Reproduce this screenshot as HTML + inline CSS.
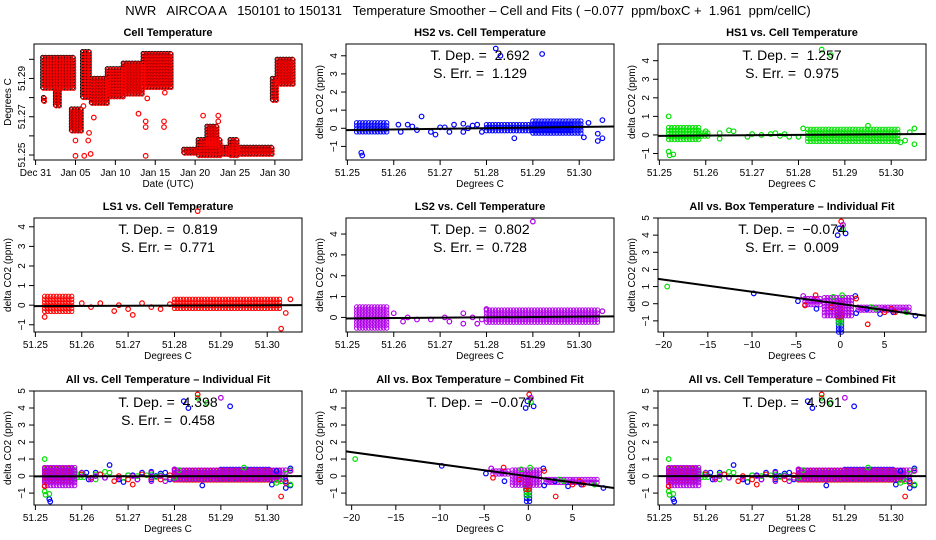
<!DOCTYPE html>
<html><head><meta charset="utf-8">
<style>
body{margin:0;background:#fff;}
svg{display:block;font-family:"Liberation Sans",Arial,sans-serif;}
text{white-space:pre;}
</style></head>
<body>
<svg id="chart" width="936" height="540" viewBox="0 0 936 540">
<rect width="936" height="540" fill="#fff"/>
<text x="468" y="15" text-anchor="middle" font-size="13">NWR   AIRCOA A   150101 to 150131   Temperature Smoother – Cell and Fits ( −0.077  ppm/boxC +  1.961  ppm/cellC)</text>
</svg>
<script>
// ---------- data ----------
const cellTickValues=[51.25,51.26,51.27,51.28,51.29,51.30];
const cellTickLabels=["51.25","51.26","51.27","51.28","51.29","51.30"];
const boxTickValues=[-20,-15,-10,-5,0,5];
const boxTickLabels=["−20","−15","−10","−5","0","5"];
const dayTickValues=[0,5,10,15,20,25,30];
const dayTickLabels=["Dec 31","Jan 05","Jan 10","Jan 15","Jan 20","Jan 25","Jan 30"];
const cellTempTickValues=[51.25,51.26,51.27,51.28,51.29,51.30];
const cellTempTickLabels=["51.25","","51.27","","51.29",""];

// time series: [day0, day1, tempLo, tempHi]
const tsBands=[[0.9,4.8,51.284,51.301],[1.0,1.2,51.277,51.28],[2.5,2.9,51.276,51.284],[4.5,5.7,51.262,51.274],[5.9,7.0,51.279,51.304],[7.0,9.0,51.276,51.29],[9.0,11.0,51.280,51.295],[11,13.5,51.282,51.298],[13.5,16.9,51.285,51.303],[18.6,20.4,51.25,51.253],[20.4,23.2,51.25,51.258],[21.5,23,51.255,51.265],[23.2,24.4,51.25,51.254],[24.4,25.4,51.25,51.258],[25.4,29.9,51.25,51.254],[29.7,30.3,51.279,51.29],[30.3,32.2,51.287,51.3]];
const tsPoints=[[4.9,51.25],[4.9,51.258],[6.0,51.25],[6.8,51.251],[6.5,51.258],[6.6,51.262],[5.9,51.276],[7.2,51.27],[12.8,51.272],[13.7,51.25],[13.7,51.268],[13.7,51.265],[13.9,51.28],[16,51.268],[16,51.265],[16.1,51.283],[20.9,51.271],[22.8,51.268],[22.8,51.271]];

// cell-temp scatter: bands [x0,x1,yLo,yHi], points [x,y]
const hs2Bands=[[51.252,51.2585,-0.3,0.3],[51.280,51.2985,-0.25,0.2],[51.290,51.3005,-0.3,0.4]];
const hs2Points=[[51.253,-1.35],[51.2532,-1.5],[51.261,0.2],[51.2615,-0.2],[51.263,0.2],[51.264,0.1],[51.265,-0.1],[51.266,0.65],[51.268,-0.2],[51.269,-0.35],[51.270,0.05],[51.271,0.05],[51.272,-0.2],[51.273,0.2],[51.275,-0.2],[51.275,0.25],[51.276,0],[51.277,0.15],[51.278,0.2],[51.279,-0.2],[51.282,4.4],[51.283,4.0],[51.292,4.1],[51.286,-0.55],[51.301,-0.5],[51.302,0.3],[51.304,-0.7],[51.305,-0.55],[51.305,0.45],[51.304,-0.3]];
const hs1Bands=[[51.252,51.2585,-0.3,0.4],[51.2585,51.261,-0.2,0.1],[51.282,51.302,-0.35,0.3]];
const hs1Points=[[51.252,1.0],[51.252,-0.9],[51.2522,-1.1],[51.253,-1.05],[51.26,0.2],[51.263,0.1],[51.263,-0.2],[51.265,0.25],[51.266,0.2],[51.269,-0.1],[51.270,0.05],[51.272,0],[51.274,0.05],[51.275,0.1],[51.276,-0.05],[51.277,0.05],[51.278,-0.1],[51.28,-0.1],[51.281,0.35],[51.285,4.6],[51.287,4.3],[51.295,0.5],[51.302,-0.4],[51.303,-0.3],[51.304,0.15],[51.305,0.35],[51.305,-0.5]];
const ls1Bands=[[51.252,51.258,-0.35,0.45],[51.28,51.303,-0.25,0.3]];
const ls1Points=[[51.252,-0.6],[51.26,0.1],[51.262,-0.1],[51.264,0.1],[51.267,-0.3],[51.268,0],[51.27,-0.2],[51.271,-0.5],[51.273,0.1],[51.275,-0.1],[51.277,-0.2],[51.279,0.05],[51.285,4.8],[51.303,-1.2],[51.305,0.3],[51.304,-0.4]];
const ls2Bands=[[51.252,51.2585,-0.6,0.5],[51.28,51.304,-0.3,0.35]];
const ls2Points=[[51.26,0.2],[51.262,-0.2],[51.263,0],[51.265,-0.1],[51.268,-0.1],[51.271,0],[51.272,-0.2],[51.275,-0.3],[51.275,0.2],[51.277,0],[51.278,-0.3],[51.279,-0.1],[51.28,0.4],[51.29,4.6],[51.305,0.3]];

// box-temp scatter
const boxBlueBands=[[-0.2,0.2,-1.65,-0.6]];
const boxGreenBands=[[-0.25,0.25,-1.2,-0.6]];
const boxRedBands=[[-0.3,0.3,-0.8,0.1]];
const boxPurpleBands=[[-1.8,1.4,-0.7,0.35],[-4,-2,-0.05,0.3],[2,8,-0.5,-0.2]];
const boxBluePoints=[[-9.8,0.6],[-4.8,0.15],[-2.7,-0.3],[1.8,-0.55],[1.7,0.45],[4.5,-0.6],[8.5,-0.7],[-0.3,4.0],[-0.1,4.4],[0.6,4.1],[3,-0.3],[6,-0.5]];
const boxGreenPoints=[[-19.6,1.0],[0.3,4.35],[7.5,-0.5],[-0.8,0.4],[0.2,0.5],[3.5,-0.2],[4,-0.3]];
const boxRedPoints=[[0.1,4.8],[-2.8,0.5],[3.1,-1.2],[-4,-0.1],[5,-0.5],[5.8,-0.3],[6.2,-0.5],[1.8,0.3],[-1,-0.2]];
const boxPurplePoints=[[0.3,4.6],[-4.2,0.45],[7.2,-0.4],[5,-0.3],[2.5,-0.3],[-3,0.2]];

// fits: [yAtXmin, yAtXmax]
const fitHS2=[-0.1,0.1], fitHS1=[-0.05,0.05], fitLS1=[-0.05,0.0], fitLS2=[-0.05,0.05];
const fitBox=[1.45,-0.7], fitCellInd=[-0.02,0.0], fitCellComb=[0,0];
const statTDep=["2.692","1.257","0.819","0.802","−0.074","4.398","−0.077","4.961"];
const statSErr=["1.129","0.975","0.771","0.728","0.009","0.458"];

// ---------- drawing ----------
const svg=document.getElementById('chart');
const NS='http://www.w3.org/2000/svg';
const BLUE='#0000ff',GREEN='#00e000',RED='#ff0000',PURPLE='#b000e8';
function mk(tag,attrs,parent){const e=document.createElementNS(NS,tag);for(const k in attrs)e.setAttribute(k,attrs[k]);(parent||svg).appendChild(e);return e;}
function panel(name,left,top,w,h,xlim,ylim){
  const g=mk('g',{});
  
  
  const sx=v=>left+(v-xlim[0])/(xlim[1]-xlim[0])*w;
  const sy=v=>top+h-(v-ylim[0])/(ylim[1]-ylim[0])*h;
  return {g,sx,sy,left,top,w,h,xlim,ylim};
}
function frame(p,title,xTitle,yTitle,xt,xl,yt,yl){
  const t=mk('text',{x:p.left+p.w/2,y:p.top-8,'text-anchor':'middle','font-size':11,'font-weight':'bold'},p.g);t.textContent=title;
  
  
  const b=mk('rect',{x:p.left,y:p.top,width:p.w,height:p.h,fill:'none',stroke:'#000','stroke-width':1},p.g);
  
  
  const ax=mk('g',{},p.g);
  
  
  xt.forEach((v,i)=>{const x=p.sx(v);
    mk('line',{x1:x,x2:x,y1:p.top+p.h,y2:p.top+p.h+5,stroke:'#000'},ax);
    const l=mk('text',{x:x,y:p.top+p.h+16,'text-anchor':'middle','font-size':10},ax);l.textContent=xl[i];});
  const xtt=mk('text',{x:p.left+p.w/2,y:p.top+p.h+27,'text-anchor':'middle','font-size':10},p.g);xtt.textContent=xTitle;
  
  
  const ay=mk('g',{},p.g);
  
  
  yt.forEach((v,i)=>{const y=p.sy(v);
    mk('line',{x1:p.left-5,x2:p.left,y1:y,y2:y,stroke:'#000'},ay);
    if(yl[i]!==''){const l=mk('text',{x:p.left-9,y:y,'text-anchor':'middle','font-size':10,transform:`rotate(-90 ${p.left-9} ${y})`},ay);l.textContent=yl[i];}});
  const ytt=mk('text',{x:p.left-23,y:p.top+p.h/2,'text-anchor':'middle','font-size':10,transform:`rotate(-90 ${p.left-23} ${p.top+p.h/2})`},p.g);ytt.textContent=yTitle;
  
  
}
function bands(p,arr,color){
  const g=mk('g',{fill:'none',stroke:color,'stroke-width':1},p.g);
  
  
  arr.forEach(b=>{const x0=p.sx(b[0]),x1=p.sx(b[1]),y0=p.sy(b[3]),y1=p.sy(b[2]);
    for(let x=x0;x<=x1+0.01;x+=3)for(let y=y0;y<=y1+0.01;y+=3)mk('circle',{cx:x,cy:y,r:2.2},g);});
}
function points(p,arr,color){
  const g=mk('g',{fill:'none',stroke:color,'stroke-width':1.2},p.g);
  
  
  arr.forEach(d=>mk('circle',{cx:p.sx(d[0]),cy:p.sy(d[1]),r:2.3},g));
}
function fit(p,f){
  const l=mk('line',{x1:p.left,x2:p.left+p.w,y1:p.sy(f[0]),y2:p.sy(f[1]),stroke:'#000','stroke-width':2},p.g);
  
  
}
function stats(p,td,se){
  const a=mk('text',{x:p.left+p.w/2,y:p.top+16,'text-anchor':'middle','font-size':14},p.g);a.textContent='T. Dep. =  '+td;
  
  
  if(se){const b=mk('text',{x:p.left+p.w/2,y:p.top+34,'text-anchor':'middle','font-size':14},p.g);b.textContent='S. Err. =  '+se;
  
  }
}
const cols=[34,346,658], W=268;
const rows=[[44,116],[218,114],[391,114]];
const cellX=[51.2497,51.3075], boxX=[-20.64,9.7];
const dY5=[-1,0,1,2,3,4,5], dY4=[-1,0,1,2,3,4];
const lab=a=>a.map(v=>v<0?'−'+(-v):String(v));
const dT='delta CO2 (ppm)';

// Panel 1
let p=panel('cell-temperature-panel',cols[0],rows[0][0],W,rows[0][1],[-0.2,33.4],[51.2474,51.308]);
frame(p,'Cell Temperature','Date (UTC)','Degrees C',dayTickValues,dayTickLabels,cellTempTickValues,cellTempTickLabels);
bands(p,tsBands,'#000');
{const q=Object.assign({},p);q.sx=v=>p.sx(v)+0.8;q.sy=v=>p.sy(v)+0.8;bands(q,tsBands,RED);points(q,tsPoints,RED);}

// Row 1
p=panel('hs2-panel',cols[1],rows[0][0],W,rows[0][1],cellX,[-1.75,4.65]);
frame(p,'HS2 vs. Cell Temperature','Degrees C',dT,cellTickValues,cellTickLabels,dY4,lab(dY4));
bands(p,hs2Bands,BLUE);points(p,hs2Points,BLUE);fit(p,fitHS2);stats(p,statTDep[0],statSErr[0]);
p=panel('hs1-panel',cols[2],rows[0][0],W,rows[0][1],cellX,[-1.35,4.9]);
frame(p,'HS1 vs. Cell Temperature','Degrees C',dT,cellTickValues,cellTickLabels,dY4,lab(dY4));
bands(p,hs1Bands,GREEN);points(p,hs1Points,GREEN);fit(p,fitHS1);stats(p,statTDep[1],statSErr[1]);

// Row 2
p=panel('ls1-panel',cols[0],rows[1][0],W,rows[1][1],cellX,[-1.37,4.45]);
frame(p,'LS1 vs. Cell Temperature','Degrees C',dT,cellTickValues,cellTickLabels,dY4,lab(dY4));
bands(p,ls1Bands,RED);points(p,ls1Points,RED);fit(p,fitLS1);stats(p,statTDep[2],statSErr[2]);
p=panel('ls2-panel',cols[1],rows[1][0],W,rows[1][1],cellX,[-0.7,4.77]);
frame(p,'LS2 vs. Cell Temperature','Degrees C',dT,cellTickValues,cellTickLabels,dY4.slice(1),lab(dY4.slice(1)));
bands(p,ls2Bands,PURPLE);points(p,ls2Points,PURPLE);fit(p,fitLS2);stats(p,statTDep[3],statSErr[3]);
function boxAll(p){
  bands(p,boxBlueBands,BLUE);bands(p,boxGreenBands,GREEN);bands(p,boxRedBands,RED);bands(p,boxPurpleBands,PURPLE);
  points(p,boxBluePoints,BLUE);points(p,boxGreenPoints,GREEN);points(p,boxRedPoints,RED);points(p,boxPurplePoints,PURPLE);
}
function cellAll(p){
  bands(p,hs2Bands,BLUE);bands(p,hs1Bands,GREEN);bands(p,ls1Bands,RED);bands(p,ls2Bands,PURPLE);
  points(p,hs2Points,BLUE);points(p,hs1Points,GREEN);points(p,ls1Points,RED);points(p,ls2Points,PURPLE);
}
p=panel('all-box-individual-panel',cols[2],rows[1][0],W,rows[1][1],boxX,[-1.65,5.0]);
frame(p,'All vs. Box Temperature – Individual Fit','Degrees C',dT,boxTickValues,boxTickLabels,dY5,lab(dY5));
boxAll(p);fit(p,fitBox);stats(p,statTDep[4],statSErr[4]);

// Row 3
p=panel('all-cell-individual-panel',cols[0],rows[2][0],W,rows[2][1],cellX,[-1.7,5.0]);
frame(p,'All vs. Cell Temperature – Individual Fit','Degrees C',dT,cellTickValues,cellTickLabels,dY5,lab(dY5));
cellAll(p);fit(p,fitCellInd);stats(p,statTDep[5],statSErr[5]);
p=panel('all-box-combined-panel',cols[1],rows[2][0],W,rows[2][1],boxX,[-1.7,5.0]);
frame(p,'All vs. Box Temperature – Combined Fit','Degrees C',dT,boxTickValues,boxTickLabels,dY5,lab(dY5));
boxAll(p);fit(p,fitBox);stats(p,statTDep[6],null);
p=panel('all-cell-combined-panel',cols[2],rows[2][0],W,rows[2][1],cellX,[-1.7,5.0]);
frame(p,'All vs. Cell Temperature – Combined Fit','Degrees C',dT,cellTickValues,cellTickLabels,dY5,lab(dY5));
cellAll(p);fit(p,fitCellComb);stats(p,statTDep[7],null);
</script>
</body></html>
